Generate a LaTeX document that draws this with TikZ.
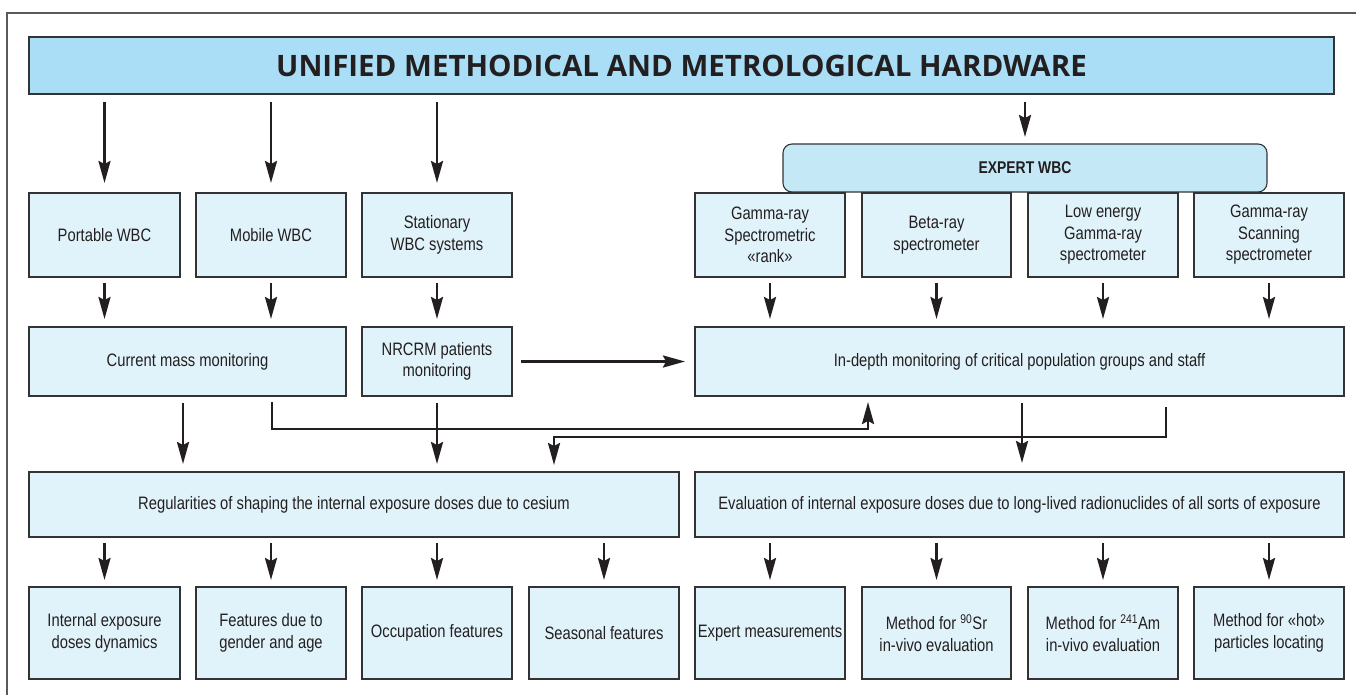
\documentclass[tikz,border=0pt]{standalone}
\usepackage{fontspec}
\setmainfont{Liberation Sans}
\newfontfamily\condfont[FakeStretch=0.82]{Liberation Sans}
\newfontfamily\titlefont{Open Sans}
\usetikzlibrary{arrows.meta,calc}
\definecolor{bannerblue}{HTML}{A9DEF6}
\definecolor{expertblue}{HTML}{C5E8F7}
\definecolor{boxblue}{HTML}{E0F3FA}
\definecolor{edgegray}{HTML}{333333}
\definecolor{ink}{HTML}{231F20}
\definecolor{framegray}{HTML}{5A5A5A}
\begin{document}
\begin{tikzpicture}[x=1pt,y=-1pt,
  box/.style={draw=edgegray,line width=1.1pt,fill=boxblue,inner sep=0pt,outer sep=0pt,
    align=center,text=ink,font=\condfont\fontsize{18}{21.5}\selectfont},
  arr/.style={draw=ink,line width=2.6pt,-{Stealth[length=22pt,width=12pt,inset=3pt]}},
]
\useasboundingbox (0,0) rectangle (1356,694);
\draw[framegray,line width=1.4pt] (7,700) -- (7,13) -- (1362,13);

% banner
\node[draw=edgegray,line width=1.1pt,fill=bannerblue,inner sep=0pt,outer sep=0pt,
  minimum width=1305pt,minimum height=57pt,text=ink,
  font=\titlefont\bfseries\fontsize{29.5}{33}\selectfont] (banner) at (681.5,65.5)
  {UNIFIED METHODICAL AND METROLOGICAL HARDWARE};

% expert
\node[draw=edgegray,line width=1.1pt,fill=expertblue,rounded corners=9pt,inner sep=0pt,outer sep=0pt,
  minimum width=484pt,minimum height=48pt,text=ink,
  font=\condfont\bfseries\fontsize{17}{20}\selectfont] (expert) at (1025,168) {EXPERT WBC};

% row 1
\node[box,minimum width=151pt,minimum height=84pt] (portable) at (104.5,235) {Portable WBC};
\node[box,minimum width=150pt,minimum height=84pt] (mobile) at (271,235) {Mobile WBC};
\node[box,minimum width=150pt,minimum height=84pt] (stationary) at (437,235) {Stationary\\WBC systems};
\node[box,minimum width=150pt,minimum height=84pt] (g1) at (770,235) {Gamma-ray\\Spectrometric\\«rank»};
\node[box,minimum width=149pt,minimum height=84pt] (g2) at (936.5,235) {Beta-ray\\spectrometer};
\node[box,minimum width=150pt,minimum height=84pt] (g3) at (1103,235) {Low energy\\Gamma-ray\\spectrometer};
\node[box,minimum width=150pt,minimum height=84pt] (g4) at (1269,235) {Gamma-ray\\Scanning\\spectrometer};

% row 2
\node[box,minimum width=317pt,minimum height=69pt] (current) at (187.5,361.5) {Current mass monitoring};
\node[box,minimum width=150pt,minimum height=69pt] (nrcrm) at (437,361.5) {NRCRM patients\\monitoring};
\node[box,minimum width=649pt,minimum height=69pt] (indepth) at (1019.5,361.5) {In-depth monitoring of critical population groups and staff};

% row 3
\node[box,minimum width=650pt,minimum height=65pt] (regular) at (354,504.5) {Regularities of shaping the internal exposure doses due to cesium};
\node[box,minimum width=649pt,minimum height=65pt] (evaluation) at (1019.5,504.5) {Evaluation of internal exposure doses due to long-lived radionuclides of all sorts of exposure};

% row 4
\node[box,minimum width=151pt,minimum height=92pt] (b1) at (104.5,633) {Internal exposure\\doses dynamics};
\node[box,minimum width=150pt,minimum height=92pt] (b2) at (271,633) {Features due to\\gender and age};
\node[box,minimum width=150pt,minimum height=92pt] (b3) at (437,633) {Occupation features};
\node[box,minimum width=150pt,minimum height=92pt] (b4) at (604,633) {Seasonal features};
\node[box,minimum width=150pt,minimum height=92pt] (b5) at (770,633) {Expert measurements};
\node[box,minimum width=149pt,minimum height=92pt] (b6) at (936.5,633) {Method for \textsuperscript{90}Sr\\in-vivo evaluation};
\node[box,minimum width=150pt,minimum height=92pt] (b7) at (1103,633) {Method for \textsuperscript{241}Am\\in-vivo evaluation};
\node[box,minimum width=150pt,minimum height=92pt] (b8) at (1269,633) {Method for «hot»\\particles locating};

% banner -> row 1
\foreach \n in {portable,mobile,stationary}
  \draw[arr] ([yshift=-8pt]banner.south -| \n.north) -- ([yshift=10pt]\n.north);
\draw[arr] ([yshift=-8pt]banner.south -| expert.north) -- ([yshift=7pt]expert.north);

% row 1 -> row 2
\draw[arr] ([yshift=-6pt]portable.south) -- ([yshift=8pt]current.north -| portable.south);
\draw[arr] ([yshift=-6pt]mobile.south) -- ([yshift=8pt]current.north -| mobile.south);
\draw[arr] ([yshift=-6pt]stationary.south) -- ([yshift=8pt]nrcrm.north);
\foreach \n in {g1,g2,g3,g4}
  \draw[arr] ([yshift=-6pt]\n.south) -- ([yshift=8pt]indepth.north -| \n.south);

% nrcrm -> indepth
\draw[arr] ([xshift=9pt]nrcrm.east) -- ([xshift=-10pt]indepth.west |- nrcrm.east);

% row 2 -> row 3
\coordinate (xa) at (183,0);
\coordinate (xb) at (272,0);
\coordinate (xc) at (868,0);
\coordinate (xd) at (1166,0);
\coordinate (xe) at (554,0);
\coordinate (xf) at (1022,0);
\coordinate (ya) at (0,429);
\coordinate (yb) at (0,437);
\draw[arr] ([yshift=-7pt]current.south -| xa) -- ([yshift=8pt]regular.north -| xa);
\draw[arr] ([yshift=-7pt]nrcrm.south) -- ([yshift=8pt]regular.north -| nrcrm.south);
\draw[arr] ([yshift=-6pt]current.south -| xb) |- (ya -| xc) -- ([yshift=-6pt]indepth.south -| xc);
\draw[arr] ([yshift=-11pt]indepth.south -| xd) |- (yb -| xe) -- ([yshift=7pt]regular.north -| xe);
\draw[arr] ([yshift=-7pt]indepth.south -| xf) -- ([yshift=9pt]evaluation.north -| xf);

% row 3 -> row 4
\foreach \n in {b1,b2,b3,b4}
  \draw[arr] ([yshift=-6pt]regular.south -| \n.north) -- ([yshift=7pt]\n.north);
\foreach \n in {b5,b6,b7,b8}
  \draw[arr] ([yshift=-6pt]evaluation.south -| \n.north) -- ([yshift=7pt]\n.north);
\end{tikzpicture}
\end{document}
